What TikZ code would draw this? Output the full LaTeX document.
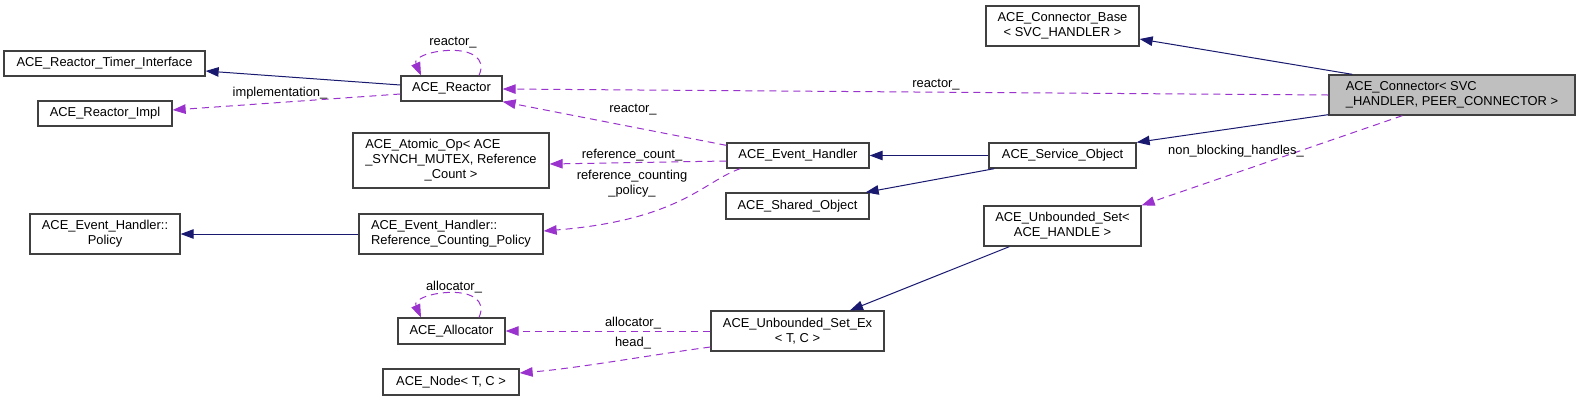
\documentclass[tikz,border=0pt]{standalone}
\usepackage{fontspec}
\usepackage{calc}
\setmainfont{Liberation Sans}
\usetikzlibrary{arrows.meta,calc}
\definecolor{edgeblue}{HTML}{191970}
\definecolor{edgepurple}{HTML}{9A32CD}
\definecolor{boxline}{HTML}{404040}
\definecolor{focusfill}{HTML}{BFBFBF}
\begin{document}
\begin{tikzpicture}[x=1bp,y=-1bp,
  every node/.style={font=\fontsize{12.95pt}{15.05pt}\selectfont},
  cls/.style={draw=boxline, line width=1.3bp, fill=white, inner sep=0pt, align=center},
  lbl/.style={inner sep=0pt, align=center},
  inherit/.style={draw=edgeblue, line width=1bp, -{Triangle[length=13bp,width=9.5bp]}},
  usage/.style={draw=edgepurple, line width=1bp, dash pattern=on 7bp off 5bp, -{Triangle[length=13bp,width=9.5bp]}}]
\useasboundingbox (0,0) rectangle (1580,401);

% classes
\node[cls, minimum width=201bp, minimum height=25bp] (timer) at (104.5,63.5) {ACE\_Reactor\_Timer\_Interface};
\node[cls, minimum width=101bp, minimum height=25bp] (reactor) at (451.5,88.5) {ACE\_Reactor};
\node[cls, minimum width=134bp, minimum height=25bp] (impl) at (105,113.5) {ACE\_Reactor\_Impl};
\node[cls, minimum width=196bp, minimum height=55bp] (atomic) at (451,160.5) {\makebox[\widthof{\_SYNCH\_MUTEX, Reference}][l]{ACE\_Atomic\_Op< ACE}\\\_SYNCH\_MUTEX, Reference\\\_Count >};
\node[cls, minimum width=150bp, minimum height=40bp] (policy) at (105,234) {ACE\_Event\_Handler::\\Policy};
\node[cls, minimum width=184bp, minimum height=40bp, align=left] (rcpolicy) at (451,234) {ACE\_Event\_Handler::\\Reference\_Counting\_Policy};
\node[cls, minimum width=107bp, minimum height=26bp] (allocator) at (451.5,331) {ACE\_Allocator};
\node[cls, minimum width=136bp, minimum height=26bp] (acenode) at (451,382) {ACE\_Node< T, C >};
\node[cls, minimum width=142bp, minimum height=25bp] (eh) at (798,155.5) {ACE\_Event\_Handler};
\node[cls, minimum width=143bp, minimum height=26bp] (shared) at (797.5,206) {ACE\_Shared\_Object};
\node[cls, minimum width=173bp, minimum height=40bp] (setex) at (797.5,331) {ACE\_Unbounded\_Set\_Ex\\< T, C >};
\node[cls, minimum width=153bp, minimum height=40bp] (base) at (1062.5,26) {ACE\_Connector\_Base\\< SVC\_HANDLER >};
\node[cls, minimum width=147bp, minimum height=25bp] (service) at (1062.5,155.5) {ACE\_Service\_Object};
\node[cls, minimum width=157bp, minimum height=40bp] (uset) at (1062.5,226) {ACE\_Unbounded\_Set<\\ACE\_HANDLE >};
\node[cls, fill=focusfill, minimum width=246bp, minimum height=40bp, align=left] (conn) at (1452,95) {ACE\_Connector< SVC\\\_HANDLER, PEER\_CONNECTOR >};

% inheritance
\draw[inherit] ($(reactor.west)+(0,-3.5)$) -- ($(timer.east)+(0,7.5)$);
\draw[inherit] (rcpolicy.west) -- (policy.east);
\draw[inherit] (service.west) -- (eh.east);
\draw[inherit] ($(service.south west)+(6,0)$) -- ($(shared.north east)+(-4,0)$);
\draw[inherit] ($(uset.south west)+(26,0)$) -- ($(setex.north)+(52.5,0)$);
\draw[inherit] ($(conn.north west)+(24,0)$) -- ($(base.east)+(0,13)$);
\draw[inherit] ($(conn.south west)+(0,-1)$) -- (service.north east);

% usage
\draw[usage] ($(reactor.north)+(27.5,0)$) .. controls +(8,-18) and +(18,0) .. ($(reactor.north)+(0.5,-25)$) .. controls +(-20,0) and +(-8,-18) .. ($(reactor.north)+(-30.5,0)$);
\node[lbl] (lreactor1) at (453,43) {reactor\_};
\draw[usage] ($(reactor.west)+(0,5.5)$) -- ($(impl.east)+(0,-3.5)$);
\node[lbl] (limpl) at (280,93) {implementation\_};
\draw[usage] (conn.west) -- ($(reactor.east)+(0,0.5)$);
\node[lbl] (lreactor2) at (936,85) {reactor\_};
\draw[usage] ($(eh.north west)+(0,3)$) -- (reactor.south east);
\node[lbl] (lreactor3) at (633,110) {reactor\_};
\draw[usage] ($(eh.west)+(0,5.5)$) -- ($(atomic.east)+(0,3.5)$);
\node[lbl] (lrefcount) at (632,155) {reference\_count\_};
\draw[usage] ($(eh.south west)+(14,0)$) .. controls +(-36,12) and +(137,-11) .. ($(rcpolicy.east)+(0,-3)$);
\node[lbl] (lrcpolicy) at (632,184) {reference\_counting\\\_policy\_};
\draw[usage] ($(conn.south west)+(74,0)$) -- (uset.north east);
\node[lbl] (lnonblock) at (1236,151) {non\_blocking\_handles\_};
\draw[usage] ($(allocator.north)+(27.5,0)$) .. controls +(8,-18) and +(18,0) .. ($(allocator.north)+(0.5,-25)$) .. controls +(-20,0) and +(-8,-18) .. ($(allocator.north)+(-30.5,0)$);
\node[lbl] (lalloc1) at (454,287) {allocator\_};
\draw[usage] (setex.west) -- (allocator.east);
\node[lbl] (lalloc2) at (633,323) {allocator\_};
\draw[usage] ($(setex.west)+(0,16)$) .. controls +(-60,8) and +(60,-5) .. ($(acenode.east)+(0,-9)$);
\node[lbl] (lhead) at (633,343) {head\_};
\end{tikzpicture}
\end{document}
